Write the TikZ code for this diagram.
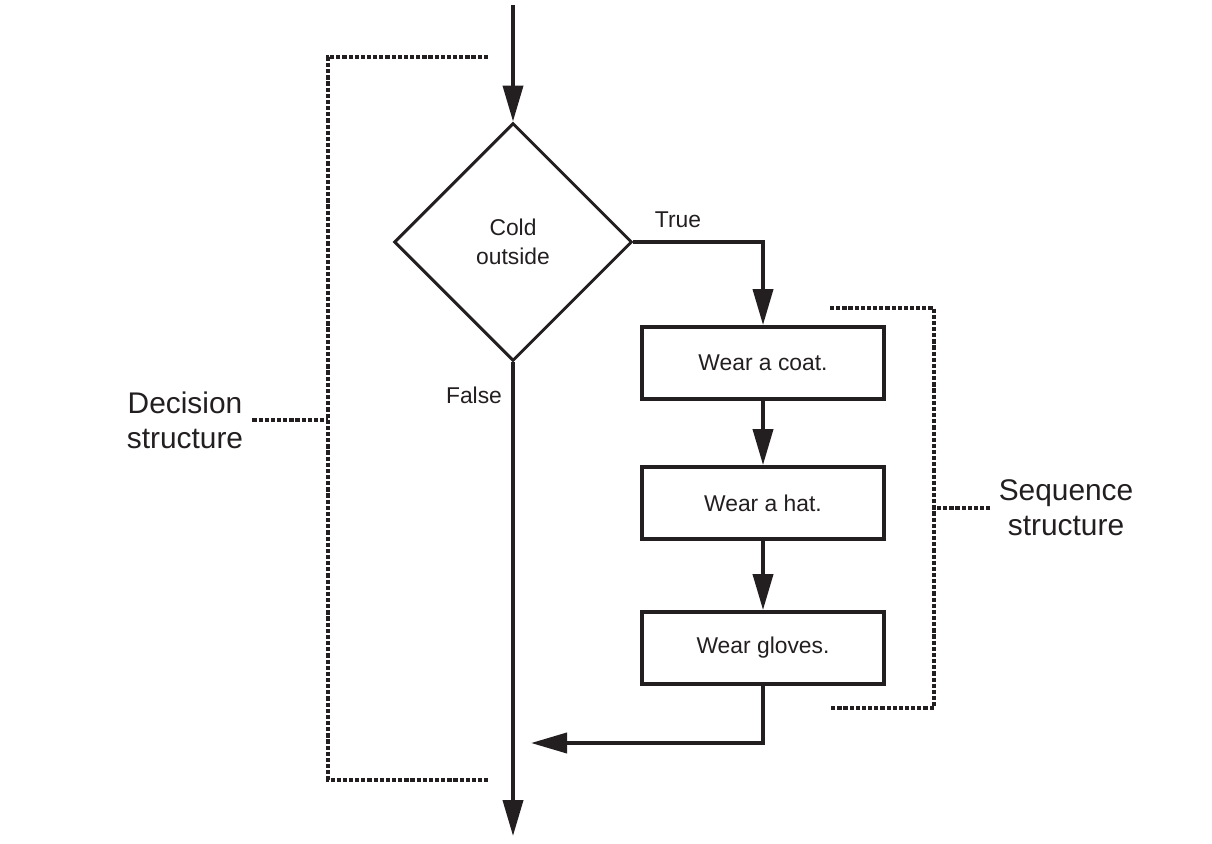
\documentclass[tikz,border=0pt]{standalone}
\usepackage{fontspec}
\usepackage{xcolor}
\usetikzlibrary{shapes.geometric,arrows.meta}
\setmainfont{Liberation Sans}
\definecolor{FlowInk}{HTML}{231F20}

\begin{document}
\begin{tikzpicture}[
    x=0.02cm, y=-0.02cm,
    every node/.style={text=FlowInk},
    stepbox/.style={draw=FlowInk, line width=2.2pt, minimum width=4.84cm, minimum height=1.44cm, font=\fontsize{13}{16}\selectfont},
    decision/.style={draw=FlowInk, line width=1.7pt, diamond, aspect=1, minimum width=4.76cm, minimum height=4.76cm, inner sep=0pt, align=center, font=\fontsize{13}{16.4}\selectfont},
    label/.style={font=\fontsize{13}{16}\selectfont},
    bigtext/.style={align=center, font=\fontsize{17}{20}\selectfont},
    arrow/.style={-{Triangle[length=0.72cm, width=0.4cm]}, line width=2.2pt, draw=FlowInk},
    bracket/.style={line width=2.4pt, draw=FlowInk, dash pattern=on 2.4pt off 1.1pt}
  ]
    \useasboundingbox (0,0) rectangle (1212,844);

    % flow nodes
    \node[decision] (cold) at (513,242) {Cold\\outside};
    \node[stepbox] (coat) at (763,363) {Wear a coat.};
    \node[stepbox] (hat) at (763,503) {Wear a hat.};
    \node[stepbox] (gloves) at (763,648) {Wear gloves.};

    \coordinate (start) at (513,5);
    \coordinate (finish) at (513,836);
    \coordinate (merge) at (531,743);

    \node[label] at (678,220) {True};
    \node[label] at (474,395) {False};

    \draw[arrow] (start) -- (cold.north);
    \draw[arrow] (cold.east) -| (coat.north);
    \draw[arrow] (coat) -- (hat);
    \draw[arrow] (hat) -- (gloves);
    \draw[arrow] (gloves.south) |- (merge);
    \draw[arrow] (cold.south) -- (finish);

    % structure brackets
    \coordinate (dtop) at (328,57);
    \coordinate (stop) at (934,308);
    \node[bigtext, inner sep=0.18cm] (decisionlbl) at (185,420) {Decision\\structure};
    \node[bigtext, inner sep=0.16cm] (sequencelbl) at (1066,508) {Sequence\\structure};

    \draw[bracket] (488,57) -- (dtop) -- (328,780) -- (488,780);
    \draw[bracket] (decisionlbl.east) -- (decisionlbl.east -| dtop);
    \draw[bracket] (830,308) -- (stop) -- (934,708) -- (830,708);
    \draw[bracket] (sequencelbl.west) -- (sequencelbl.west -| stop);
  \end{tikzpicture}
\end{document}
